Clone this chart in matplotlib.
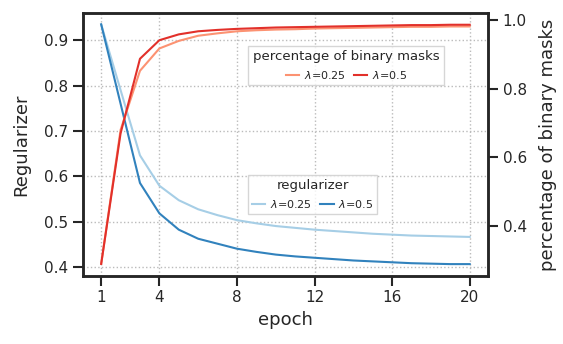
import matplotlib
matplotlib.use("Agg")
import matplotlib.pyplot as plt
import numpy as np

epochs = np.arange(1, 21)

reg_025 = [0.935, 0.79, 0.646, 0.579, 0.547, 0.527, 0.514, 0.503, 0.496, 0.490,
           0.486, 0.482, 0.479, 0.476, 0.473, 0.471, 0.469, 0.468, 0.467, 0.466]
reg_05 = [0.935, 0.76, 0.585, 0.518, 0.482, 0.462, 0.451, 0.440, 0.433, 0.427,
          0.423, 0.420, 0.417, 0.414, 0.412, 0.410, 0.408, 0.407, 0.406, 0.406]
pct_025 = [0.29, 0.68, 0.852, 0.917, 0.939, 0.954, 0.961, 0.967, 0.970, 0.972,
           0.973, 0.975, 0.976, 0.977, 0.978, 0.979, 0.980, 0.980, 0.981, 0.981]
pct_05 = [0.29, 0.67, 0.887, 0.941, 0.958, 0.967, 0.971, 0.974, 0.976, 0.978,
          0.979, 0.980, 0.981, 0.982, 0.983, 0.984, 0.985, 0.985, 0.986, 0.986]

xticks = [1, 4, 8, 12, 16, 20]

plt.rcParams["font.family"] = "DejaVu Sans"
plt.rcParams["text.color"] = "#262626"
plt.rcParams["axes.labelcolor"] = "#262626"
plt.rcParams["xtick.color"] = "#262626"
plt.rcParams["ytick.color"] = "#262626"

fig = plt.figure(figsize=(5.63, 3.44), dpi=100)
ax = fig.add_axes([0.147, 0.198, 0.72, 0.764])
ax2 = ax.twinx()

l1, = ax.plot(epochs, reg_025, color="#a6cee6", lw=1.5, label=r"$\lambda$=0.25")
l2, = ax.plot(epochs, reg_05, color="#3182bd", lw=1.5, label=r"$\lambda$=0.5")
r1, = ax2.plot(epochs, pct_025, color="#fc9272", lw=1.5, label=r"$\lambda$=0.25")
r2, = ax2.plot(epochs, pct_05, color="#e2302a", lw=1.5, label=r"$\lambda$=0.5")

ax.set_ylim(0.38, 0.96)
ax2.set_ylim(0.255, 1.02)
ax.set_yticks([0.4, 0.5, 0.6, 0.7, 0.8, 0.9])
ax2.set_yticks([0.4, 0.6, 0.8, 1.0])
ax.set_xticks(xticks)
ax.set_xlim(0.05, 20.95)

ax.grid(True, linestyle=":", color="#bbbbbb", lw=1)
ax.set_xlabel("epoch", fontsize=13)
ax.set_ylabel("Regularizer", fontsize=13, labelpad=10)
ax2.set_ylabel("percentage of binary masks", fontsize=13, labelpad=9)

for a in (ax, ax2):
    a.tick_params(labelsize=11, length=7, width=1.5, direction="out")
    for s in a.spines.values():
        s.set_linewidth(1.8)
        s.set_color("#262626")

leg1 = ax2.legend(handles=[r1, r2], title="percentage of binary masks", ncol=2,
                  loc="center", bbox_to_anchor=(0.65, 0.80), fontsize=8,
                  title_fontsize=9.5, handlelength=1.2, columnspacing=0.8,
                  handletextpad=0.4, fancybox=False, edgecolor="#cccccc")
leg2 = ax2.legend(handles=[l1, l2], title="regularizer", ncol=2,
                  loc="center", bbox_to_anchor=(0.567, 0.31), fontsize=8,
                  title_fontsize=9.5, handlelength=1.2, columnspacing=0.8,
                  handletextpad=0.4, fancybox=False, edgecolor="#cccccc")
ax2.add_artist(leg1)

fig.savefig("out.png", dpi=100)
